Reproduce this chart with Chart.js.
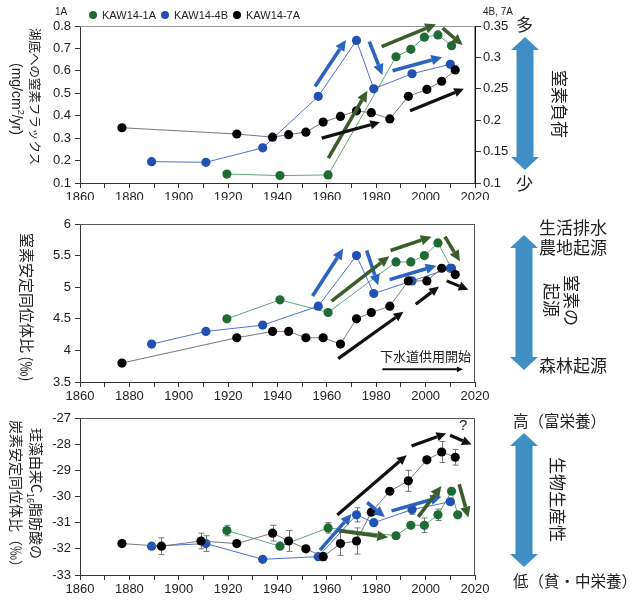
<!DOCTYPE html>
<html>
<head>
<meta charset="utf-8">
<script src="https://cdn.jsdelivr.net/npm/chart.js@4.4.1/dist/chart.umd.min.js"></script>
<style>
  body { margin: 0; background: #fff; }
  #wrap { position: relative; width: 639px; height: 601px; overflow: hidden; color: #222;
          font-family: "Liberation Sans", Arial, sans-serif; }
  canvas { position: absolute; left: 0; }
  .v { position: absolute; writing-mode: vertical-rl; text-orientation: sideways; white-space: nowrap;
       font-family: "Noto Sans CJK JP", sans-serif; }
  .h { position: absolute; white-space: nowrap; font-family: "Noto Sans CJK JP", sans-serif; }
  .lat { font-family: "Liberation Sans", Arial, sans-serif; }
  #legend { position: absolute; left: 89px; top: 9px; display: flex; align-items: center; font-size: 11px; }
  #legend .dot { width: 8px; height: 8px; border-radius: 50%; margin-right: 5px; }
  #legend .txt { margin-right: 5px; }
</style>
</head>
<body>
<div id="wrap">
  <canvas id="c1" width="520" height="200" style="top:0"></canvas>
  <canvas id="c2" width="520" height="200" style="top:200px"></canvas>
  <canvas id="c3" width="520" height="201" style="top:400px"></canvas>
  <svg id="big" width="639" height="601" style="position:absolute;left:0;top:0"></svg>

  <div id="legend"></div>
  <div class="h lat" style="left:55px;top:6px;font-size:10px;line-height:12px">1A</div>
  <div class="h lat" style="left:483px;top:6px;font-size:10px;line-height:12px">4B, 7A</div>

  <!-- left axis titles -->
  <div class="v" style="left:26px;top:28px;font-size:12.5px;line-height:18px">湖底への窒素フラックス</div>
  <div class="v lat" style="left:8px;top:63px;font-size:14px;line-height:18px">(mg/cm<sup style="font-size:9px;line-height:0">2</sup>/yr)</div>
  <div class="v" style="left:18px;top:233px;font-size:15px;line-height:18px">窒素安定同位体比 (‰)</div>
  <div class="v" style="left:28px;top:428px;font-size:14px;line-height:18px">珪藻由来C<span style="font-size:9px;vertical-align:sub;line-height:0">16</span>脂肪酸の</div>
  <div class="v" style="left:8px;top:420px;font-size:14px;line-height:18px">炭素安定同位体比（‰）</div>

  <!-- right side labels -->
  <div class="h" style="left:516px;top:12px;font-size:17px;line-height:24px">多</div>
  <div class="h" style="left:516px;top:171px;font-size:17px;line-height:24px">少</div>
  <div class="v" style="left:550px;top:70px;font-size:17px;line-height:20px">窒素負荷</div>

  <div class="h" style="left:539px;top:216px;font-size:17px;line-height:22px">生活排水</div>
  <div class="h" style="left:539px;top:236px;font-size:17px;line-height:22px">農地起源</div>
  <div class="h" style="left:539px;top:354px;font-size:17px;line-height:22px">森林起源</div>
  <div class="v" style="left:562px;top:275px;font-size:17px;line-height:20px">窒素の</div>
  <div class="v" style="left:542px;top:283px;font-size:17px;line-height:20px">起源</div>
  <div class="h" style="left:380px;top:347px;font-size:13px;line-height:18px">下水道供用開始</div>

  <div class="h" style="left:513px;top:409px;font-size:15.5px;line-height:22px">高（富栄養）</div>
  <div class="h" style="left:513px;top:569px;font-size:15.5px;line-height:22px">低（貧・中栄養）</div>
  <div class="v" style="left:548px;top:457px;font-size:17px;line-height:20px">生物生産性</div>
  <div class="h lat" style="left:459px;top:416px;font-size:15px;line-height:18px">?</div>
</div>

<script>
// sample cores
const coreNames = ["KAW14-1A", "KAW14-4B", "KAW14-7A"];

// sample ages (year AD)
const years1A = [1919.5, 1941, 1960.5, 1988, 1994, 1999.5, 2005, 2010.5];
const years4B = [1889, 1911, 1934, 1956.5, 1972, 1979, 1994.5, 2010];
const years7A = [1877, 1923.5, 1938, 1944.5, 1951.5, 1958.5, 1965.5, 1972, 1978, 1985.5, 1993, 2000.5, 2006.5, 2012];
const years1A_C = [1919.5, 1941, 1960.5, 1988, 1994, 1999.5, 2005, 2010.5, 2013];
const years7A_C = [1877, 1893, 1909, 1923.5, 1938, 1944.5, 1951.5, 1958.5, 1965.5, 1972, 1978, 1985.5, 1993, 2000.5, 2006.5, 2012];

// N flux to lake floor (mg/cm2/yr); 1A on left axis, 4B & 7A on right axis
const flux1A = [0.14, 0.133, 0.136, 0.663, 0.696, 0.75, 0.76, 0.712];
const flux4B = [0.134, 0.133, 0.156, 0.238, 0.327, 0.25, 0.274, 0.289];
const flux7A = [0.188, 0.178, 0.173, 0.177, 0.181, 0.197, 0.206, 0.215, 0.212, 0.202, 0.238, 0.249, 0.262, 0.28];

// d15N (permil)
const d15N1A = [4.5, 4.8, 4.6, 5.4, 5.4, 5.5, 5.7, 5.3];
const d15N4B = [4.1, 4.3, 4.4, 4.7, 5.5, 4.9, 5.1, 5.3];
const d15N7A = [3.8, 4.2, 4.3, 4.3, 4.2, 4.2, 4.1, 4.5, 4.6, 4.7, 5.1, 5.1, 5.3, 5.2];

// d13C of diatom C16 fatty acid (permil) and error
const d13C1A = [-31.3, -31.9, -31.2, -31.5, -31.1, -31.1, -30.7, -29.8, -30.7];
const d13C1Aerr = [0.2, 0, 0.2, 0, 0, 0.28, 0.22, 0, 0];
const d13C4B = [-31.9, -31.8, -32.4, -32.3, -30.7, -31.0, -30.5, -30.2];
const d13C4Berr = [0, 0.3, 0, 0, 0.27, 0, 0.18, 0];
const d13C7A = [-31.8, -31.9, -31.7, -31.8, -31.4, -31.7, -32.0, -32.3, -31.8, -31.7, -30.6, -29.8, -29.4, -28.6, -28.3, -28.5];
const d13C7Aerr = [0, 0.32, 0.3, 0, 0.3, 0.4, 0, 0.15, 0.45, 0.5, 0, 0, 0.4, 0, 0.4, 0.3];

// trend arrows: [x1, y1, x2, y2, colour key] in year / left-axis units
const arrows1 = [
  [1955.2, 0.53, 1967.7, 0.738, "b"], [1977.2, 0.73, 1982.5, 0.582, "b"], [1986.6, 0.6, 2006.7, 0.661, "b"],
  [1960.6, 0.211, 1976.4, 0.511, "g"], [1982.2, 0.708, 2004.2, 0.808, "g"], [2006.9, 0.79, 2015, 0.715, "g"],
  [1957.9, 0.3, 1981.5, 0.371, "k"], [1993.7, 0.422, 2015.5, 0.52, "k"]
];
const arrows2 = [
  [1954.2, 4.86, 1966.6, 5.61, "b"], [1976.1, 5.58, 1980.8, 5.03, "b"], [1985.4, 5.12, 2004.4, 5.34, "b"],
  [1961.9, 4.78, 1985.3, 5.49, "g"], [1985.8, 5.58, 2002.4, 5.8, "g"], [2007.8, 5.8, 2013.9, 5.41, "g"],
  [1964.6, 3.87, 1991, 4.61, "k"], [1996, 4.73, 2005.4, 5.01, "k"], [2008.5, 5.1, 2017.3, 4.96, "k"],
  [1982.5, 3.7, 2015.1, 3.7, "thin"]
];
const arrows3 = [
  [1964.2, -30.71, 1992.3, -28.42, "k"], [1994.3, -28.07, 2008.3, -27.59, "k"], [2009.9, -27.66, 2018.6, -28.01, "k"],
  [1957.2, -32.05, 1970, -30.67, "b"], [1976.3, -30.23, 1983.5, -30.78, "b"], [1986.2, -30.55, 2006.4, -30.01, "b"],
  [1965, -31.31, 1984.8, -31.56, "g"], [1997, -30.78, 2006.4, -29.6, "g"], [2013.6, -29.53, 2017.3, -30.8, "g"]
];

const ptColor = ["#1f6b38", "#2150b4", "#000000"];
const lnColor = ["#4d9d66", "#3c5fd0", "#6a6a6a"];
const arrowStyle = { b: ["#2a64c0", 3.6], g: ["#3b5c2c", 3.6], k: ["#111", 3.2], thin: ["#111", 2] };
const FONT = { family: "'Liberation Sans', Arial, sans-serif", size: 13 };

// legend
const lg = document.getElementById("legend");
coreNames.forEach((n, i) => {
  lg.insertAdjacentHTML("beforeend",
    `<span class="dot" style="background:${ptColor[i]}"></span><span class="txt">${n}</span>`);
});

// big double arrows on the right
const bigArrows = [[525, 37, 170], [524, 235, 370], [524, 433, 567]];
const svg = document.getElementById("big");
bigArrows.forEach(([cx, t, b]) => {
  const s = 8.5, hw = 14, hl = 13;
  const pts = [[cx, t], [cx + hw, t + hl], [cx + s, t + hl], [cx + s, b - hl], [cx + hw, b - hl], [cx, b],
    [cx - hw, b - hl], [cx - s, b - hl], [cx - s, t + hl], [cx - hw, t + hl]];
  svg.insertAdjacentHTML("beforeend",
    `<polygon points="${pts.map(p => p.join(",")).join(" ")}" fill="#3f8fc5"/>`);
});

function drawArrow(ctx, x1, y1, x2, y2, color, w) {
  const a = Math.atan2(y2 - y1, x2 - x1), hl = w * 3, hw = w * 1.45;
  const bx = x2 - hl * Math.cos(a), by = y2 - hl * Math.sin(a);
  ctx.strokeStyle = color; ctx.fillStyle = color; ctx.lineWidth = w; ctx.lineCap = "butt";
  ctx.beginPath(); ctx.moveTo(x1, y1); ctx.lineTo(bx, by); ctx.stroke();
  ctx.beginPath(); ctx.moveTo(x2, y2);
  ctx.lineTo(bx - hw * Math.sin(a), by + hw * Math.cos(a));
  ctx.lineTo(bx + hw * Math.sin(a), by - hw * Math.cos(a));
  ctx.closePath(); ctx.fill();
}

function makeMarks(arrows, frameColor) {
  return {
    id: "marks",
    beforeDatasetsDraw(chart) {
      const ctx = chart.ctx;
      ctx.save();
      ctx.strokeStyle = "#777"; ctx.lineWidth = 1;
      chart.data.datasets.forEach(ds => {
        if (!ds.errs) return;
        const ys = chart.scales[ds.yAxisID || "y"], xs = chart.scales.x;
        ds.data.forEach((p, i) => {
          const e = ds.errs[i];
          if (!e) return;
          const px = Math.round(xs.getPixelForValue(p.x)) + 0.5;
          const t = ys.getPixelForValue(p.y + e), b = ys.getPixelForValue(p.y - e);
          ctx.beginPath();
          ctx.moveTo(px, t); ctx.lineTo(px, b);
          ctx.moveTo(px - 3, t); ctx.lineTo(px + 3, t);
          ctx.moveTo(px - 3, b); ctx.lineTo(px + 3, b);
          ctx.stroke();
        });
      });
      ctx.restore();
    },
    afterDatasetsDraw(chart) {
      const ctx = chart.ctx, xs = chart.scales.x, ys = chart.scales.y, ca = chart.chartArea;
      ctx.save();
      ctx.strokeStyle = frameColor; ctx.lineWidth = 1;
      ctx.beginPath();
      ctx.moveTo(ca.left, ca.top + 0.5); ctx.lineTo(ca.right, ca.top + 0.5);
      ctx.moveTo(ca.right - 0.5, ca.top); ctx.lineTo(ca.right - 0.5, ca.bottom);
      ctx.stroke();
      arrows.forEach(([x1, y1, x2, y2, k]) => {
        const [c, w] = arrowStyle[k];
        drawArrow(ctx, xs.getPixelForValue(x1), ys.getPixelForValue(y1),
          xs.getPixelForValue(x2), ys.getPixelForValue(y2), c, w);
      });
      ctx.restore();
    }
  };
}

function series(xs, ys, i, axis, errs) {
  return {
    label: coreNames[i],
    data: xs.map((x, j) => ({ x: x, y: ys[j] })),
    showLine: true,
    borderColor: lnColor[i],
    borderWidth: 0.9,
    pointBackgroundColor: ptColor[i],
    pointBorderColor: ptColor[i],
    pointBorderWidth: 0,
    pointRadius: 4.6,
    yAxisID: axis,
    errs: errs,
    order: 2 - i
  };
}

function xScale(h) {
  return {
    type: "linear", min: 1860, max: 2020,
    ticks: { stepSize: 10, autoSkip: false, maxRotation: 0, padding: 2, color: "#222", font: FONT,
      callback: v => (v % 20 === 0 ? String(v) : "") },
    grid: { drawOnChartArea: false, tickLength: 5, color: "#333" },
    border: { color: "#333" },
    afterFit: s => { s.height = h; }
  };
}

function yScale(min, max, step, pos, width, borderColor) {
  return {
    type: "linear", position: pos, min: min, max: max,
    ticks: { stepSize: step, padding: pos === "left" ? 4 : 2, color: "#222", font: FONT,
      callback: v => String(+v.toFixed(2)) },
    grid: { drawOnChartArea: false, tickLength: pos === "left" ? 5 : 6, color: "#333" },
    border: { color: borderColor },
    afterFit: s => { s.width = width; }
  };
}

function panel(id, datasets, scales, top, right, arrows, frame) {
  return new Chart(document.getElementById(id), {
    type: "scatter",
    data: { datasets: datasets },
    options: {
      responsive: false, animation: false, devicePixelRatio: 1,
      layout: { padding: { top: top, right: right, left: 0, bottom: 0 } },
      plugins: { legend: { display: false }, tooltip: { enabled: false } },
      scales: scales
    },
    plugins: [makeMarks(arrows, frame)]
  });
}

// panel 1: nitrogen flux
panel("c1", [
  series(years7A, flux7A, 2, "y2"),
  series(years4B, flux4B, 1, "y2"),
  series(years1A, flux1A, 0, "y")
], {
  x: xScale(17),
  y: yScale(0.1, 0.8, 0.1, "left", 80, "#333"),
  y2: yScale(0.1, 0.35, 0.05, "right", 45, "#111")
}, 26, 0, arrows1, "#999");

// panel 2: d15N
panel("c2", [
  series(years7A, d15N7A, 2, "y"),
  series(years4B, d15N4B, 1, "y"),
  series(years1A, d15N1A, 0, "y")
], {
  x: xScale(18),
  y: yScale(3.5, 6, 0.5, "left", 80, "#333")
}, 24, 45, arrows2, "#555");

// panel 3: d13C
panel("c3", [
  series(years7A_C, d13C7A, 2, "y", d13C7Aerr),
  series(years4B, d13C4B, 1, "y", d13C4Berr),
  series(years1A_C, d13C1A, 0, "y", d13C1Aerr)
], {
  x: xScale(26),
  y: yScale(-33, -27, 1, "left", 80, "#333")
}, 18, 45, arrows3, "#555");
</script>
</body>
</html>
